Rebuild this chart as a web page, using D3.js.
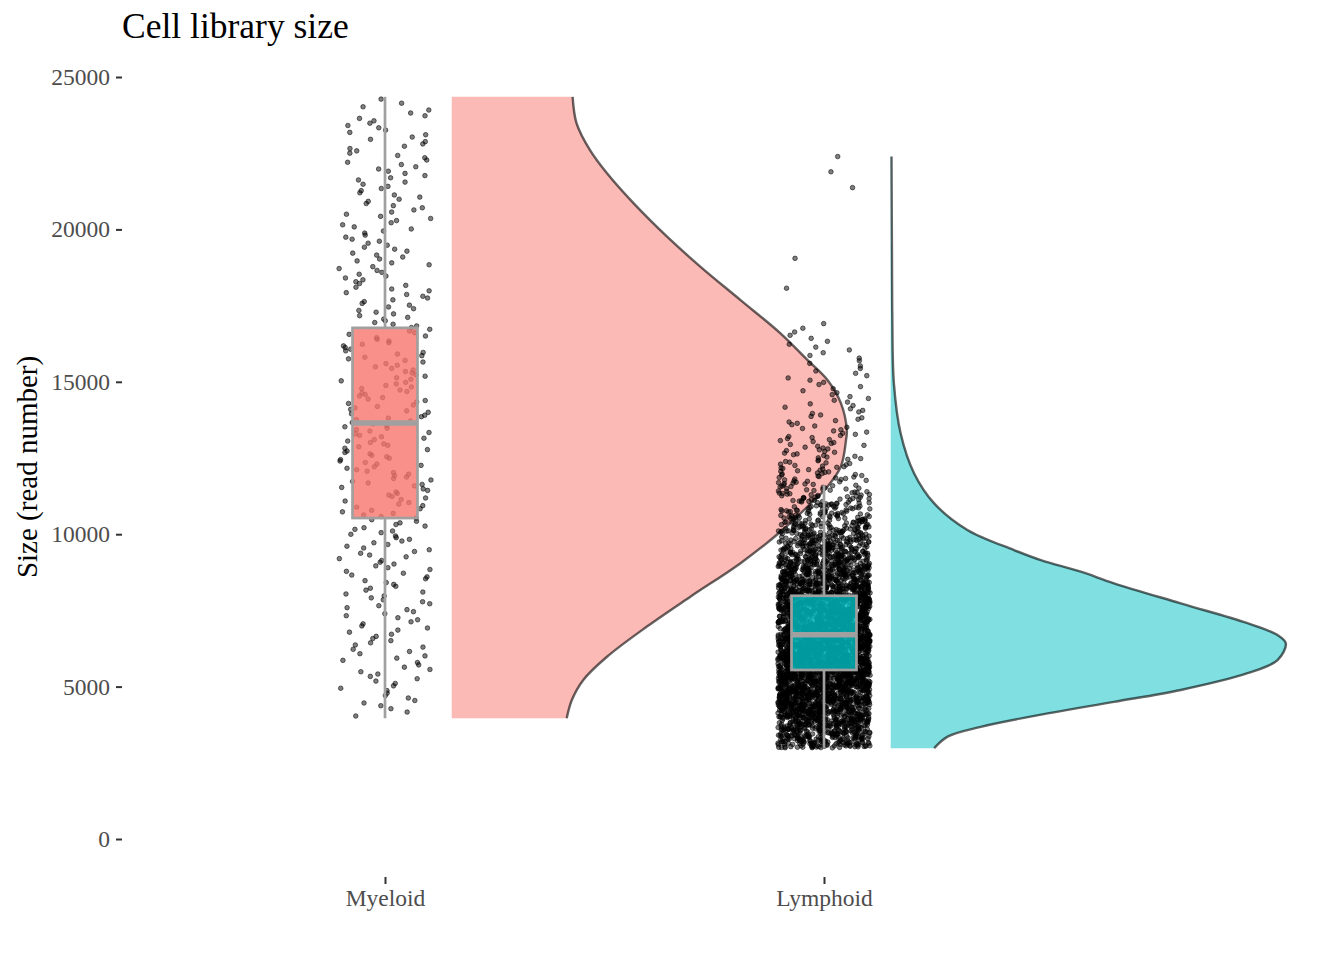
<!DOCTYPE html>
<html>
<head>
<meta charset="utf-8">
<script src="https://cdn.jsdelivr.net/npm/d3@7"></script>
<style>
  body { margin: 0; background: #fff; }
  text { font-family: "Liberation Serif", "Times New Roman", serif; }
</style>
</head>
<body>
<svg width="1344" height="960"></svg>
<script>
// Groups and colours
var groups = ["Myeloid", "Lymphoid"];
var fills = ["#F8766D", "#00BFC4"];

// Box stats (whisker ends, quartiles, median), read numbers
var boxMin = [3960, 2990];
var boxQ1 = [10530, 5545];
var boxMedian = [13650, 6700];
var boxQ3 = [16770, 7980];
var boxMax = [24350, 11610];

// Half violin profiles: read number and relative width
var myeloidDensityAt = [3960, 4560, 5220, 5980, 6970, 7950, 9050, 10080, 10900, 11560, 12220, 13090, 13420, 14300, 15060, 15720, 16590, 17680, 18780, 19760, 20860, 21840, 22600, 23480, 24350];
var myeloidDensity = [0.291, 0.304, 0.333, 0.393, 0.494, 0.604, 0.731, 0.832, 0.900, 0.951, 0.985, 0.998, 1.0, 0.985, 0.951, 0.900, 0.832, 0.731, 0.629, 0.545, 0.460, 0.393, 0.350, 0.316, 0.306];
var lymphoidDensityAt = [2980, 3360, 3680, 4120, 4500, 4890, 5440, 5870, 6420, 6690, 7080, 7730, 8390, 8770, 9150, 9480, 10140, 11010, 12000, 13310, 14950, 17140, 19500, 22390];
var lymphoidDensity = [0.110, 0.144, 0.228, 0.397, 0.565, 0.734, 0.903, 0.979, 1.0, 0.979, 0.903, 0.734, 0.565, 0.481, 0.380, 0.312, 0.194, 0.110, 0.059, 0.025, 0.008, 0.004, 0.003, 0.002];

// Number of cells in each 1000-read bin, bins start at these values
var binStarts = [3000, 4000, 5000, 6000, 7000, 8000, 9000, 10000, 11000, 12000, 13000, 14000, 15000, 16000, 17000, 18000, 19000, 20000, 21000, 22000, 23000, 24000];
var myeloidCounts = [1, 12, 13, 14, 15, 16, 17, 19, 20, 21, 21, 20, 19, 18, 17, 16, 15, 14, 14, 13, 13, 5];
var lymphoidCounts = [360, 580, 680, 670, 580, 440, 290, 160, 75, 40, 24, 16, 12, 10, 0, 0, 0, 0, 0, 0, 0, 0];
// isolated high Lymphoid cells
var lymphoidHigh = [18070, 19050, 21370, 21890, 22390];

var yTicks = [0, 5000, 10000, 15000, 20000, 25000];

var svg = d3.select("svg");

var y = d3.scaleLinear().domain([0, 25000]).range([839, 77]);
// group index -> pixel; 1 unit = distance between groups
var x = d3.scaleLinear().domain([0, 1]).range([385, 824]);
var unit = x(1) - x(0);

var boxHalf = 0.074, violinGap = 0.152, violinWidth = 0.9, jitter = 0.105;

// Half violins
var profiles = [
  myeloidDensityAt.map(function(v, i) { return [v, myeloidDensity[i]]; }),
  lymphoidDensityAt.map(function(v, i) { return [v, lymphoidDensity[i]]; })
];
var gv = svg.append("g").attr("class", "violins");
profiles.forEach(function(p, g) {
  var base = x(g) + violinGap * unit;
  var curve = d3.curveCatmullRom.alpha(0.5);
  var area = d3.area()
    .y(function(d) { return y(d[0]); })
    .x0(base)
    .x1(function(d) { return base + d[1] * violinWidth * unit; })
    .curve(curve);
  var edge = d3.line()
    .y(function(d) { return y(d[0]); })
    .x(function(d) { return base + d[1] * violinWidth * unit; })
    .curve(curve);
  gv.append("path").attr("d", area(p))
    .attr("fill", fills[g]).attr("fill-opacity", 0.5);
  gv.append("path").attr("d", edge(p))
    .attr("fill", "none").attr("stroke", "#000").attr("stroke-opacity", 0.6)
    .attr("stroke-width", 2.4);
});

// Points: the bin counts give a piecewise linear density and cells sit at its
// evenly spaced quantiles; the sideways jitter is a fixed hash, not random
function jit(k) { var s = Math.sin(k * 12.9898 + 78.233) * 43758.5453; return s - Math.floor(s); }
function cellsFor(g, counts, extra) {
  var centers = binStarts.map(function(s) { return s + 500; });
  var dens = d3.scaleLinear().domain(centers).range(counts).clamp(true);
  var lastBin = d3.max(counts.map(function(c, i) { return c > 0 ? binStarts[i] + 1000 : 0; }));
  var lo = boxMin[g], hi = Math.min(lastBin, d3.max([boxMax[g]].concat(extra)));
  var grid = d3.range(lo, hi + 1, 10), cum = [0];
  for (var i = 1; i < grid.length; i++) {
    cum.push(cum[i - 1] + (dens(grid[i - 1]) + dens(grid[i])) / 2);
  }
  var n = d3.sum(counts), total = cum[cum.length - 1];
  var toValue = d3.scaleLinear().domain(cum).range(grid);
  var out = [];
  for (var k = 0; k < n; k++) {
    out.push({ g: g, v: toValue((k + 0.5) / n * total), u: jit(k + 7919 * g) });
  }
  extra.forEach(function(v, j) {
    out.push({ g: g, v: v, u: jit(n + j + 7919 * g) });
  });
  return out;
}
var cells = cellsFor(0, myeloidCounts, []).concat(cellsFor(1, lymphoidCounts, lymphoidHigh));

svg.append("g").attr("class", "points")
  .selectAll("circle")
  .data(cells)
  .enter().append("circle")
    .attr("cx", function(d) { return x(d.g) + (d.u * 2 - 1) * jitter * unit; })
    .attr("cy", function(d) { return y(d.v); })
    .attr("r", 2.3)
    .attr("fill", "#000").attr("fill-opacity", 0.5)
    .attr("stroke", "#000").attr("stroke-opacity", 0.6).attr("stroke-width", 0.9);

// Boxplots
var gb = svg.append("g").attr("class", "boxes");
groups.forEach(function(name, g) {
  var cx = x(g);
  gb.append("line").attr("x1", cx).attr("x2", cx)
    .attr("y1", y(boxMin[g])).attr("y2", y(boxQ1[g]))
    .attr("stroke", "#A0A0A0").attr("stroke-width", 2.7);
  gb.append("line").attr("x1", cx).attr("x2", cx)
    .attr("y1", y(boxQ3[g])).attr("y2", y(boxMax[g]))
    .attr("stroke", "#A0A0A0").attr("stroke-width", 2.7);
  gb.append("rect")
    .attr("x", cx - boxHalf * unit).attr("width", 2 * boxHalf * unit)
    .attr("y", y(boxQ3[g])).attr("height", y(boxQ1[g]) - y(boxQ3[g]))
    .attr("fill", fills[g]).attr("fill-opacity", 0.8)
    .attr("stroke", "#A0A0A0").attr("stroke-width", 2.7);
  gb.append("line")
    .attr("x1", cx - boxHalf * unit).attr("x2", cx + boxHalf * unit)
    .attr("y1", y(boxMedian[g])).attr("y2", y(boxMedian[g]))
    .attr("stroke", "#A0A0A0").attr("stroke-width", 5.5);
});

// Axes (ticks only, no axis lines)
var yAxis = svg.append("g")
  .attr("transform", "translate(122,0)")
  .call(d3.axisLeft(y).tickValues(yTicks).tickSize(6).tickPadding(6).tickFormat(d3.format("d")));
var xAxis = svg.append("g")
  .attr("transform", "translate(0,877)")
  .call(d3.axisBottom(x).tickValues([0, 1]).tickSize(7).tickPadding(5)
    .tickFormat(function(i) { return groups[i]; }));
[yAxis, xAxis].forEach(function(a) {
  a.select(".domain").remove();
  a.selectAll(".tick line").attr("stroke", "#333").attr("stroke-width", 2);
  a.selectAll(".tick text").attr("fill", "#4D4D4D").style("font-size", "23.5px")
    .style("font-family", "'Liberation Serif', serif");
});

// Titles
svg.append("text")
  .attr("x", 122).attr("y", 38)
  .style("font-size", "35.5px")
  .text("Cell library size");
svg.append("text")
  .attr("transform", "translate(37,467) rotate(-90)")
  .attr("text-anchor", "middle")
  .style("font-size", "29px")
  .text("Size (read number)");
</script>
</body>
</html>
